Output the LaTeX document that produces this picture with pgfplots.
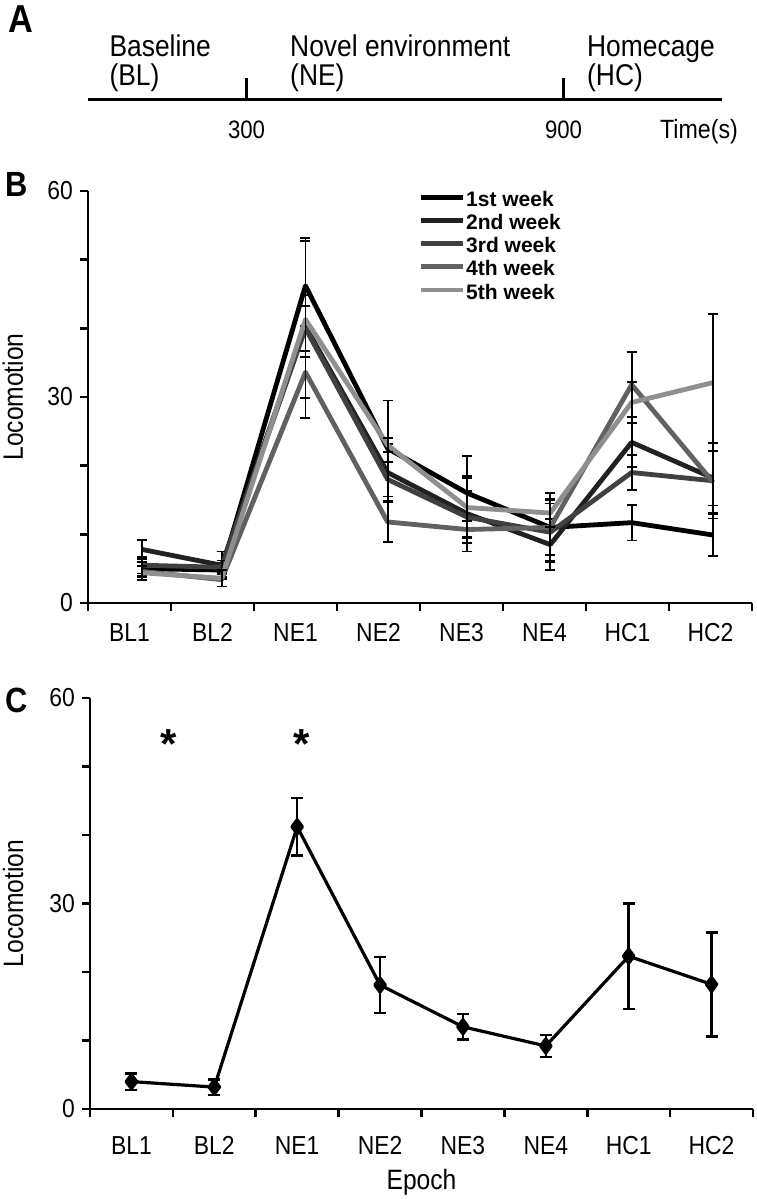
\documentclass[border=0pt]{standalone}
\usepackage{fontspec}
\setmainfont{Liberation Sans}[FakeStretch=0.88]
\newfontfamily\legfont{Liberation Sans}
\usepackage{pgfplots}
\pgfplotsset{compat=1.18}
\usepackage{pgfplotstable}
\newcommand\fs[1]{\fontsize{#1}{#1}\selectfont}
\definecolor{wone}{gray}{0.0}
\definecolor{wtwo}{gray}{0.13}
\definecolor{wthree}{gray}{0.25}
\definecolor{wfour}{gray}{0.38}
\definecolor{wfive}{gray}{0.56}

\pgfplotstableread{
x y e
1.15 5.0 1.0
2.11 4.8 1.0
3.12 46.2 7.0
4.11 22.5 7.0
5.07 16.0 5.4
6.07 11.0 5.0
7.05 11.7 2.6
8.03 9.9 3.0
}\wone
\pgfplotstableread{
x y e
1.15 7.8 1.4
2.11 5.5 2.0
3.12 40.3 4.5
4.11 19.0 4.2
5.07 13.0 5.5
6.07 8.5 3.7
7.05 23.4 3.6
8.03 18.2 4.0
}\wtwo
\pgfplotstableread{
x y e
1.15 5.5 1.2
2.11 5.2 1.0
3.12 40.0 3.3
4.11 18.0 2.5
5.07 12.5 3.8
6.07 10.3 4.2
7.05 19.0 2.5
8.03 17.8 5.5
}\wthree
\pgfplotstableread{
x y e
1.15 4.6 0.8
2.11 3.4 1.0
3.12 33.6 6.7
4.11 11.8 2.9
5.07 10.7 1.2
6.07 11.0 4.0
7.05 31.8 4.7
8.03 17.6 4.5
}\wfour
\pgfplotstableread{
x y e
1.15 4.4 1.0
2.11 3.6 1.2
3.12 41.3 11.4
4.11 23.0 1.0
5.07 13.9 4.3
6.07 13.1 2.0
7.05 29.2 3.0
8.03 32.1 10.0
}\wfive
\pgfplotstableread{
x y e
1 4.0 1.2
2 3.2 1.15
3 41.2 4.2
4 18.1 4.1
5 12.0 1.85
6 9.2 1.6
7 22.3 7.7
8 18.2 7.6
}\meanC

\pgfplotsset{
  panel/.style={
    scale only axis, clip=false,
    axis lines=left, axis line style={-, line width=1.4pt},
    tick align=outside, major tick length=4pt,
    tick style={line width=1.3pt, black},
    xmin=0.5, xmax=8.5, ymin=0, ymax=60,
    ytick={0,10,...,60}, yticklabels={0,,,30,,,60},
    xtick={0.5,1.5,...,8.5}, xticklabels={},
    extra x ticks={1,...,8},
    extra x tick labels={BL1,BL2,NE1,NE2,NE3,NE4,HC1,HC2},
    tick label style={font=\fs{13}},
    label style={font=\fs{14}},
    /pgf/number format/assume math mode=true,
  },
  weekline/.style={#1, line width=2.4pt, line join=round, no markers,
    error bars/.cd, y dir=both, y explicit,
    error bar style={line width=0.9pt, black},
    error mark options={rotate=90, line width=0.9pt, mark size=2.5pt, black}},
}

\begin{document}
\begin{tikzpicture}
\path[use as bounding box] (0,0) rectangle (378pt,599.5pt);

% Panel letters
\node[anchor=base west, font=\fs{19.5}\bfseries, inner sep=0pt] at (4pt,583pt) {A};
\node[anchor=base west, font=\fs{17.5}\bfseries, inner sep=0pt] at (2.5pt,501pt) {B};
\node[anchor=base west, font=\fs{17.5}\bfseries, inner sep=0pt] at (2.5pt,243pt) {C};

% Panel A
\begin{axis}[at={(44pt,549.5pt)}, anchor=south west, scale only axis,
  width=317pt, height=50pt, xmin=0, xmax=1200, ymin=0, ymax=100,
  axis x line=bottom, hide y axis, clip=false,
  x axis line style={-, line width=1.5pt},
  xtick={300,900}, tick align=inside, major tick length=11pt,
  xtick style={line width=1.3pt, black},
  xticklabel style={anchor=base, yshift=-19.5pt, font=\fs{12.6}},
  /pgf/number format/assume math mode=true]
\addplot[draw=none] coordinates {(0,0) (1200,0)};
\node[anchor=base west, font=\fs{15}, inner sep=0pt] at (axis cs:40,43) {Baseline};
\node[anchor=base west, font=\fs{15}, inner sep=0pt] at (axis cs:40,14) {(BL)};
\node[anchor=base west, font=\fs{15}, inner sep=0pt] at (axis cs:382,43) {Novel environment};
\node[anchor=base west, font=\fs{15}, inner sep=0pt] at (axis cs:382,14) {(NE)};
\node[anchor=base west, font=\fs{15}, inner sep=0pt] at (axis cs:944,43) {Homecage};
\node[anchor=base west, font=\fs{15}, inner sep=0pt] at (axis cs:944,14) {(HC)};
\node[anchor=base west, font=\fs{13.2}, inner sep=0pt, yshift=-19.5pt] at (axis cs:1082,0) {Time(s)};
\end{axis}

% Panel B
\begin{axis}[panel, at={(44pt,298pt)}, anchor=south west,
  width=332pt, height=206pt,
  extra x tick style={major tick length=0pt, xticklabel style={anchor=base, yshift=-19.5pt}},
  ylabel={Locomotion},
  ylabel style={at={(axis description cs:-0.113,0.5)}, anchor=center},
  legend style={at={(0.497,1.0)}, anchor=north west, draw=none, fill=none,
    inner sep=0pt, font=\legfont\fs{10.5}\bfseries, row sep=4.2pt,
    nodes={inner sep=0pt, text height=7.4pt, text depth=0pt},
    /tikz/every odd column/.append style={column sep=0.5pt}},
  legend cell align=left,
  legend image code/.code={\draw[#1, line width=2.4pt] (0pt,0.8pt) -- (21pt,0.8pt);},
  ]
\addplot[weekline=wone] table[x=x, y=y, y error=e] {\wone};
\addlegendentry{1st week}
\addplot[weekline=wtwo] table[x=x, y=y, y error=e] {\wtwo};
\addlegendentry{2nd week}
\addplot[weekline=wthree] table[x=x, y=y, y error=e] {\wthree};
\addlegendentry{3rd week}
\addplot[weekline=wfour] table[x=x, y=y, y error=e] {\wfour};
\addlegendentry{4th week}
\addplot[weekline=wfive] table[x=x, y=y, y error=e] {\wfive};
\addlegendentry{5th week}
\end{axis}

% Panel C
\begin{axis}[panel, at={(45pt,45pt)}, anchor=south west,
  width=331.5pt, height=205.5pt,
  extra x tick style={major tick length=0pt, xticklabel style={anchor=base, yshift=-22.5pt}},
  ylabel={Locomotion}, xlabel={Epoch},
  ylabel style={at={(axis description cs:-0.116,0.5)}, anchor=center},
  xlabel style={at={(axis description cs:0.5,0)}, anchor=base, yshift=-40pt},
  ]
\addplot[black, line width=1.6pt, line join=round, mark=diamond*, mark size=3.5pt,
  mark options={solid, fill=black},
  error bars/.cd, y dir=both, y explicit,
  error bar style={line width=1.3pt, black},
  error mark options={rotate=90, line width=1.3pt, mark size=3pt, black}]
  table[x=x, y=y, y error=e] {\meanC};
\node[anchor=base, font=\legfont\fs{21}\bfseries, inner sep=0pt] at (axis cs:1.45,51.2) {*};
\node[anchor=base, font=\legfont\fs{21}\bfseries, inner sep=0pt] at (axis cs:3.05,51.2) {*};
\end{axis}
\end{tikzpicture}
\end{document}
